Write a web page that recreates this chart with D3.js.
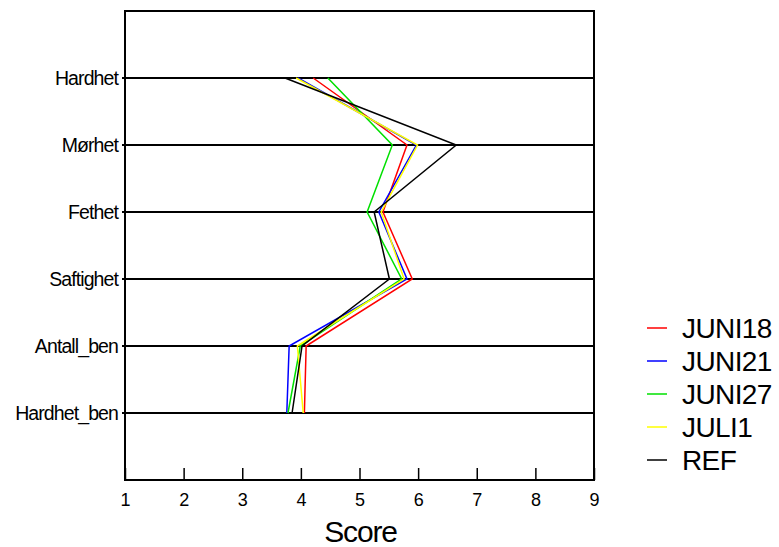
<!DOCTYPE html>
<html>
<head>
<meta charset="utf-8">
<script src="https://d3js.org/d3.v7.min.js"></script>
<style>
  body { margin: 0; background: #fff; }
  text { font-family: "Liberation Sans", Arial, sans-serif; fill: #000; }
</style>
</head>
<body>
<script>
	var width = 779;
	var height = 547;

	// attributes, top to bottom
	var attributes = ["Hardhet", "Mørhet", "Fethet", "Saftighet", "Antall_ben", "Hardhet_ben"];
	var xTicks = [1, 2, 3, 4, 5, 6, 7, 8, 9];

	// scores per sample
	var juni18 = [4.21, 5.81, 5.40, 5.90, 4.09, 4.06];
	var juni21 = [3.95, 5.97, 5.33, 5.81, 3.80, 3.76];
	var juni27 = [4.46, 5.56, 5.13, 5.72, 3.99, 3.78];
	var juli1  = [3.92, 5.99, 5.37, 5.76, 3.94, 4.04];
	var ref    = [3.73, 6.65, 5.25, 5.51, 4.02, 3.85];

	var seriesNames = ["JUNI18", "JUNI21", "JUNI27", "JULI1", "REF"];
	var seriesColors = ["#ff0000", "#0000ff", "#00e000", "#ffff00", "#000000"];
	var seriesValues = [juni18, juni21, juni27, juli1, ref];

	var plotLeft = 125, plotRight = 594, plotTop = 11, plotBottom = 480;

	var svg = d3.select("body")
		.append("svg")
		.attr("width", width)
		.attr("height", height);

	var x = d3.scaleLinear().domain([1, 9]).range([plotLeft, plotRight]);
	// category index 1..6, with an empty slot above and below
	var y = d3.scaleLinear().domain([0, 7]).range([plotTop, plotBottom]);

	// horizontal lines for each attribute (with a short tick outside)
	svg.selectAll(".grid")
		.data(attributes)
		.enter()
		.append("line")
		.attr("x1", plotLeft - 3)
		.attr("x2", plotRight)
		.attr("y1", (d, i) => y(i + 1))
		.attr("y2", (d, i) => y(i + 1))
		.attr("stroke", "#000")
		.attr("stroke-width", 2);

	svg.selectAll(".catlabel")
		.data(attributes)
		.enter()
		.append("text")
		.attr("x", 118)
		.attr("y", (d, i) => y(i + 1) + 7)
		.attr("text-anchor", "end")
		.style("font-size", "19.5px")
		.attr("letter-spacing", -0.9)
		.text(d => d);

	// frame
	svg.append("rect")
		.attr("x", plotLeft)
		.attr("y", plotTop)
		.attr("width", plotRight - plotLeft)
		.attr("height", plotBottom - plotTop)
		.attr("fill", "none")
		.attr("stroke", "#000")
		.attr("stroke-width", 2);

	// bottom axis, ticks pointing inward
	var xAxis = svg.append("g")
		.attr("transform", "translate(0," + plotBottom + ")")
		.call(d3.axisBottom(x).tickValues(xTicks).tickSizeInner(-12).tickSizeOuter(0).tickPadding(20));
	xAxis.select(".domain").remove();
	xAxis.selectAll("line").attr("stroke-width", 1.5);
	xAxis.selectAll("text")
		.style("font-size", "18px")
		.style("font-family", "Liberation Sans, Arial, sans-serif")
		.attr("dy", "0.32em");

	svg.append("text")
		.attr("x", x(5) + 1)
		.attr("y", 542)
		.attr("text-anchor", "middle")
		.style("font-size", "30px")
		.attr("letter-spacing", -1.2)
		.text("Score");

	// profile lines
	var line = d3.line()
		.x(d => x(d))
		.y((d, i) => y(i + 1));

	svg.selectAll(".series")
		.data(seriesValues)
		.enter()
		.append("path")
		.attr("d", d => line(d))
		.attr("fill", "none")
		.attr("stroke", (d, i) => seriesColors[i])
		.attr("stroke-width", 1.5);

	// legend
	var legend = svg.selectAll(".legend")
		.data(seriesNames)
		.enter()
		.append("g")
		.attr("transform", (d, i) => "translate(647," + (328 + i * 33) + ")");

	legend.append("line")
		.attr("x1", 0)
		.attr("x2", 20)
		.attr("stroke", (d, i) => seriesColors[i])
		.attr("stroke-width", 1.5);

	legend.append("text")
		.attr("x", 35)
		.attr("y", 10)
		.style("font-size", "28px")
		.attr("letter-spacing", -0.6)
		.text(d => d);
</script>
</body>
</html>
